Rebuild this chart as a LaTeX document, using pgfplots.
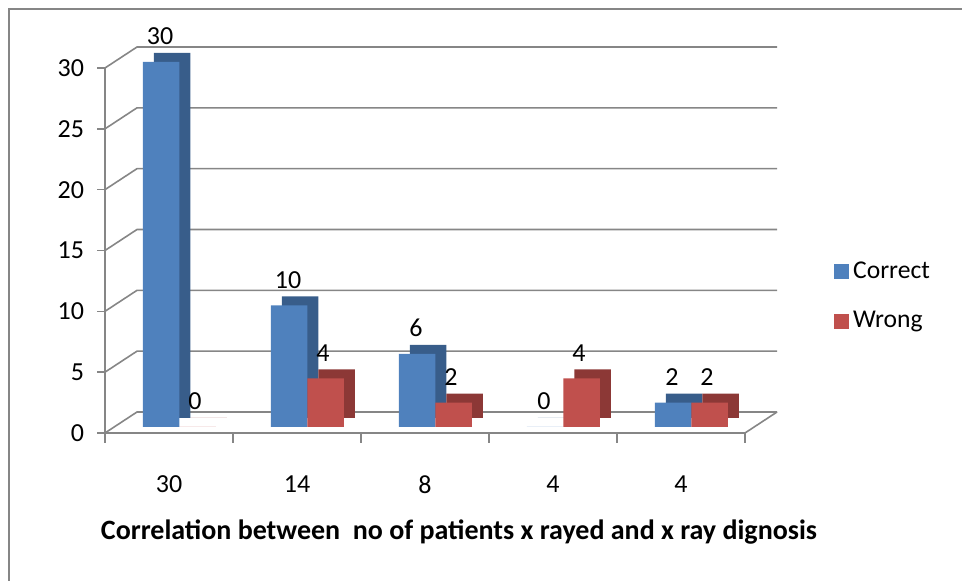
\documentclass[border=0pt]{standalone}
\usepackage{pgfplots}
\pgfplotsset{compat=1.18}
\usepackage{fontspec}
\setmainfont{Carlito}
\definecolor{cblue}{HTML}{4F81BD}
\definecolor{cred}{HTML}{C0504D}
\definecolor{cblued}{HTML}{385D8A}
\definecolor{credd}{HTML}{8C3836}
\definecolor{gridc}{HTML}{868686}
\begin{document}
\begin{tikzpicture}
\useasboundingbox (0,0) rectangle (481pt,290.5pt);
\draw[gridc, line width=1pt] (4.5pt,0) -- (4.5pt,286pt) -- (481pt,286pt);
\begin{axis}[
  at={(52.5pt,74pt)}, anchor=south west,
  scale only axis, width=320pt, height=182.5pt,
  xmin=-0.5, xmax=4.5, ymin=0, ymax=30,
  clip=false,
  axis x line*=bottom, axis y line*=left,
  axis line style={gridc, line width=0.8pt, -},
  xtick={0,...,4}, xticklabels={30,14,8,4,4},
  minor xtick={-0.5,0.5,...,4.5},
  ytick={0,5,...,30},
  tick align=outside,
  major tick length=4pt, minor tick length=5pt,
  every major x tick/.append style={draw=none},
  tick style={gridc, line width=0.8pt},
  /pgf/number format/assume math mode=true,
  tick label style={font=\fontsize{13}{15}\selectfont},
  x tick label style={yshift=-14pt},
  y tick label style={xshift=-3pt},
  legend style={at={(1.139,0.375)}, anchor=west, draw=none, fill=none,
    row sep=11pt, inner sep=0pt, font=\fontsize{12.8}{14}\selectfont},
  legend cell align=left,
  every node near coord/.append style={font=\fontsize{13}{15}\selectfont, yshift=5pt},
]
\pgfplotsinvokeforeach{0,5,...,30}{
  \draw[gridc, line width=0.8pt] (axis cs:-0.5,#1) -- ++(16pt,10.5pt) -- ([shift={(16pt,10.5pt)}]axis cs:4.5,#1);
}
\draw[gridc, line width=0.8pt] (axis cs:4.5,0) -- ++(16pt,10.5pt);
% Correct: depth then front
\addplot[ybar, bar width=18.25pt, bar shift=-4pt, fill=cblued, draw=none,
  xshift=5.5pt, yshift=7.5pt, forget plot]
  coordinates {(0,30) (1,10) (2,6) (3,0) (4,2)};
\addplot[ybar, bar width=18.25pt, bar shift=-4pt, fill=cblue, draw=none,
  yshift=3pt, nodes near coords, forget plot,
  every node near coord/.append style={xshift=-4.5pt}]
  coordinates {(0,30) (1,10) (2,6) (3,0) (4,2)};
% Wrong
\addplot[ybar, bar width=18.25pt, bar shift=14.25pt, fill=credd, draw=none,
  xshift=5.5pt, yshift=7.5pt, forget plot]
  coordinates {(0,0) (1,4) (2,2) (3,4) (4,2)};
\addplot[ybar, bar width=18.25pt, bar shift=14.25pt, fill=cred, draw=none,
  yshift=3pt, nodes near coords, forget plot,
  every node near coord/.append style={xshift=13pt}]
  coordinates {(0,0) (1,4) (2,2) (3,4) (4,2)};
\addlegendimage{legend image code/.code={\fill[cblue] (0pt,-3.5pt) rectangle (7pt,3.5pt);}}
\addlegendentry{Correct}
\addlegendimage{legend image code/.code={\fill[cred] (0pt,-3.5pt) rectangle (7pt,3.5pt);}}
\addlegendentry{Wrong}
\end{axis}
\node[font=\bfseries\fontsize{14}{16}\selectfont] at (229.5pt,24.5pt)
  {Correlation between\ \ no of patients x rayed and x ray dignosis};
\end{tikzpicture}
\end{document}
